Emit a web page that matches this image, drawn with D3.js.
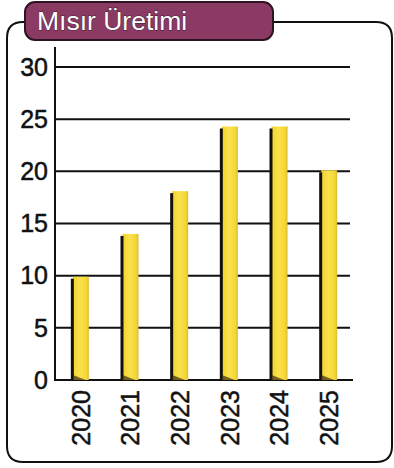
<!DOCTYPE html>
<html>
<head>
<meta charset="utf-8">
<script src="https://cdn.jsdelivr.net/npm/d3@7"></script>
<style>
html,body{margin:0;padding:0;background:#fff;}
svg{display:block;font-family:"Liberation Sans",Arial,Helvetica,sans-serif;}
</style>
</head>
<body>
<svg id="chart" width="394" height="468"></svg>
<script>
const title = "Mısır Üretimi";
const years = ["2020","2021","2022","2023","2024","2025"];
const values = [9.9, 14, 18.1, 24.3, 24.3, 20.1];
const yTicks = [0, 5, 10, 15, 20, 25, 30];

const svg = d3.select("#chart");

// outer frame
const fx0 = 7, fy0 = 22, fx1 = 392, fy1 = 462, r = 16;
svg.append("path")
  .attr("d", `M${fx0+r},${fy0} H${fx1-r} Q${fx1},${fy0} ${fx1},${fy0+r} V${fy1-r} Q${fx1},${fy1} ${fx1-r},${fy1} H${fx0+r} Q${fx0},${fy1} ${fx0},${fy1-r} V${fy0+r} Q${fx0},${fy0} ${fx0+r},${fy0} Z`)
  .attr("fill", "#fff").attr("stroke", "#111").attr("stroke-width", 2);

// title box
const tg = svg.append("g");
tg.append("rect").attr("x", 25).attr("y", 2).attr("width", 248).attr("height", 38)
  .attr("rx", 10).attr("fill", "#8b3a64").attr("stroke", "#2e1422").attr("stroke-width", 2);
tg.append("text").attr("x", 37).attr("y", 30).attr("font-size", 26.5)
  .attr("fill", "#fff").attr("stroke", "#3a1a2a").attr("stroke-width", 0.8)
  .attr("paint-order", "stroke").text(title);

const y = d3.scaleLinear().domain([0, 30]).range([380, 67]);
const x = d3.scalePoint().domain(years).range([56, 354]).padding(0.5);

// gridlines
svg.append("g").selectAll("line").data(yTicks).join("line")
  .attr("x1", 55).attr("x2", d => d === 0 ? 353 : 350)
  .attr("y1", d => y(d)).attr("y2", d => y(d))
  .attr("stroke", "#111").attr("stroke-width", 2);

// y axis line
svg.append("line").attr("x1", 55).attr("x2", 55).attr("y1", 47).attr("y2", 381)
  .attr("stroke", "#111").attr("stroke-width", 2);

// y labels
svg.append("g").selectAll("text").data(yTicks).join("text")
  .attr("x", 48).attr("y", d => y(d)).attr("dy", "0.35em")
  .attr("text-anchor", "end").attr("font-size", 25).attr("fill", "#111")
  .attr("stroke", "#111").attr("stroke-width", 0.5)
  .text(d => d);

// gradient for bars
const defs = svg.append("defs");
const grad = defs.append("linearGradient").attr("id", "barGrad")
  .attr("x1", "0%").attr("x2", "100%").attr("y1", "0%").attr("y2", "0%");
grad.append("stop").attr("offset", "0%").attr("stop-color", "#f2d326");
grad.append("stop").attr("offset", "45%").attr("stop-color", "#fae24e");
grad.append("stop").attr("offset", "85%").attr("stop-color", "#f5d632");
grad.append("stop").attr("offset", "100%").attr("stop-color", "#d6b93a");

const bars = svg.append("g").selectAll("g").data(years).join("g");
bars.append("rect")
  .attr("x", d => x(d) - 8).attr("width", 16)
  .attr("y", (d, i) => y(values[i])).attr("height", (d, i) => y(0) - y(values[i]))
  .attr("fill", "url(#barGrad)");
bars.append("rect")
  .attr("x", d => x(d) - 10).attr("width", 3)
  .attr("y", (d, i) => y(values[i]) + 2).attr("height", (d, i) => y(0) - y(values[i]) - 2)
  .attr("fill", "#111");
bars.append("path")
  .attr("d", d => `M${x(d)-8},${y(0)-5} L${x(d)+5},${y(0)} L${x(d)-8},${y(0)} Z`)
  .attr("fill", "#3a2a10").attr("opacity", 0.7);

// x labels
svg.append("g").selectAll("text").data(years).join("text")
  .attr("transform", d => `translate(${x(d)},390) rotate(-90)`)
  .attr("dy", "0.35em").attr("text-anchor", "end")
  .attr("font-size", 25).attr("fill", "#111")
  .attr("stroke", "#111").attr("stroke-width", 0.5)
  .text(d => d);
</script>
</body>
</html>
